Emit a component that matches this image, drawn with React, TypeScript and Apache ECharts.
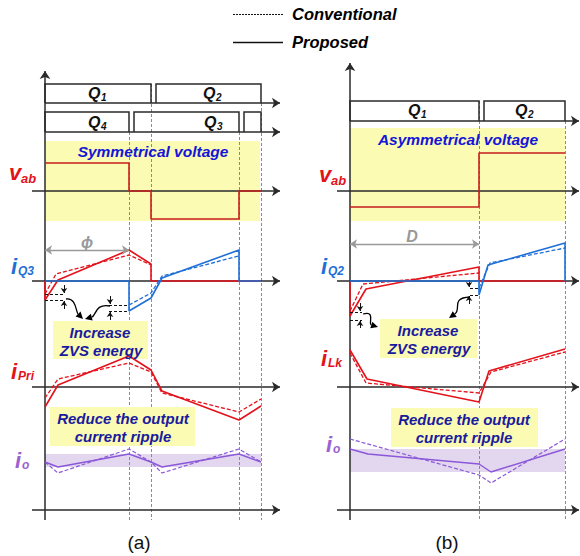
import React, { useEffect, useRef } from "react";
import * as echarts from "echarts";

const FONT = "Arial, 'Liberation Sans', 'DejaVu Sans', sans-serif";

// ---------- texts ----------
const legendNames = ["Conventional", "Proposed"];
const panelNames = ["(a)", "(b)"];
const bannerA = "Symmetrical voltage";
const bannerB = "Asymmetrical voltage";
const zvsText = ["Increase", "ZVS energy"];
const rippleText = ["Reduce the output", "current ripple"];

// ---------- panel (a) data (x: time, y: level) ----------
const aVab = [[45, 163], [129, 163], [129, 191], [151, 191], [151, 219], [239, 219], [239, 191], [261, 191]];
const aIQ3RedP = [[45, 281], [45, 300], [58, 280], [129, 250], [151, 264], [151, 281], [261, 281]];
const aIQ3RedC = [[45, 294], [56, 274], [129, 255], [151, 265]];
const aIQ3BlueP = [[45, 281], [129, 281], [129, 311], [151, 298], [162, 278], [239, 250], [239, 281], [261, 281]];
const aIQ3BlueC = [[129, 305], [151, 293], [162, 276], [239, 256]];
const aIPriP = [[45, 407], [58, 385], [129, 356], [151, 370], [162, 391], [239, 420], [261, 406]];
const aIPriC = [[45, 398], [58, 379], [129, 363], [151, 372], [162, 393], [239, 412], [261, 399]];
const aIoP = [[45, 462], [58, 467], [129, 454], [151, 462], [162, 467], [239, 454], [261, 462]];
const aIoC = [[45, 462], [58, 473], [129, 449], [151, 462], [162, 473], [239, 449], [261, 462]];

// ---------- panel (b) data ----------
const bVab = [[350, 207], [479, 207], [479, 153], [565, 153]];
const bIQ2RedP = [[350, 281], [350, 316], [366, 289], [479, 267], [479, 281], [565, 281]];
const bIQ2RedC = [[350, 311], [363, 284], [479, 273]];
const bIQ2BlueP = [[350, 281], [479, 281], [479, 295], [488, 265], [565, 243], [565, 281]];
const bIQ2BlueC = [[479, 288], [490, 263], [565, 248]];
const bILkP = [[350, 350], [367, 379], [479, 402], [489, 371], [565, 349]];
const bILkC = [[350, 353], [366, 383], [479, 393], [491, 372], [565, 352]];
const bIoP = [[350, 449], [368, 454], [479, 464], [491, 472], [565, 449]];
const bIoC = [[350, 439], [479, 475], [491, 483], [565, 439]];

// gate boxes
const gateBoxes = [
  [[45, 103], [45, 84], [151, 84], [151, 103]],
  [[156, 103], [156, 84], [261, 84], [261, 103]],
  [[45, 132], [45, 112], [129, 112], [129, 132]],
  [[134, 132], [134, 112], [239, 112], [239, 132]],
  [[244, 132], [244, 112], [261, 112], [261, 132]],
  [[350, 121], [350, 101], [479, 101], [479, 121]],
  [[484, 121], [484, 101], [565, 101], [565, 121]],
];
const gateLabels = [
  ["Q", "1", 88, 93], ["Q", "2", 203, 93], ["Q", "4", 88, 122], ["Q", "3", 204, 122],
  ["Q", "1", 408, 110], ["Q", "2", 515, 110],
];

const axesArrows = [
  [[45, 520], [45, 71]], [[45, 103], [280, 103]], [[45, 132], [280, 132]],
  [[32, 191], [280, 191]], [[32, 281], [280, 281]], [[32, 387], [280, 387]], [[32, 510], [280, 510]],
  [[350, 520], [350, 63]], [[350, 121], [579, 121]], [[337, 191], [579, 191]],
  [[337, 281], [579, 281]], [[337, 387], [579, 387]], [[337, 510], [579, 510]],
];
const guideLines = [
  [[129, 132], [129, 520]], [[151, 84], [151, 520]], [[239, 132], [239, 520]], [[261, 103], [261, 520]],
  [[479, 101], [479, 520]], [[565, 121], [565, 520]],
];
const spanArrows = [[[45, 250], [129, 250]], [[350, 244], [479, 244]]];
const spanLabels = [["ϕ", 87, 242], ["D", 412, 236]];
const levelMarks = [
  [[45, 294], [64, 294]], [[45, 300], [64, 300]], [[109, 305], [129, 305]], [[109, 311], [129, 311]],
  [[350, 312], [362, 312]], [[350, 320], [362, 320]], [[470, 288], [479, 288]], [[470, 295], [479, 295]],
];
const markArrows = [
  [[64, 285], [64, 293]], [[64, 309], [64, 301]], [[110, 296], [110, 304]], [[110, 320], [110, 312]],
  [[360, 303], [360, 311]], [[360, 328], [360, 321]], [[469, 280], [469, 287]], [[469, 304], [469, 296]],
];

const RED = "#e3121b";
const DRED = "#c81e1e";
const BLUE = "#1f6fd6";
const PURPLE = "#8a58d8";
const TXTBLUE = "#1515d8";
const BOXBLUE = "#1a1a9e";
const YELLOW = "#fbfbb4";

function wave(data: number[][], color: string, dashed: boolean, width = 1.5, z = 4) {
  return {
    type: "line",
    data,
    symbol: "none",
    silent: true,
    z,
    lineStyle: { color, width, type: dashed ? [4, 2] : "solid" },
  };
}

function text(str: string, x: number, y: number, size: number, color: string, align = "center", style = "italic", weight = "bold") {
  return {
    type: "text",
    x,
    y,
    z: 20,
    style: {
      text: str,
      fill: color,
      font: `${style} ${weight} ${size}px ${FONT}`,
      textAlign: align,
      align,
      textVerticalAlign: "middle",
      verticalAlign: "middle",
    },
  };
}

function subLabel(main: string, sub: string, x: number, y: number, color: string, mainSize: number, subSize: number, dx: number, dy: number) {
  return [text(main, x, y, mainSize, color, "left"), text(sub, x + dx, y + dy, subSize, color, "left")];
}

function curl(x1: number, y1: number, cx1: number, cy1: number, cx2: number, cy2: number, x2: number, y2: number) {
  const ang = Math.atan2(y2 - cy2, x2 - cx2);
  const L = 7, W = 3.5;
  const bx = x2 - L * Math.cos(ang), by = y2 - L * Math.sin(ang);
  const px = -Math.sin(ang) * W, py = Math.cos(ang) * W;
  return [
    {
      type: "bezierCurve",
      z: 15,
      shape: { x1, y1, x2: bx, y2: by, cpx1: cx1, cpy1: cy1, cpx2: cx2, cpy2: cy2 },
      style: { stroke: "#000", lineWidth: 1.3, fill: null },
    },
    {
      type: "polygon",
      z: 15,
      shape: { points: [[x2, y2], [bx + px, by + py], [bx - px, by - py]] },
      style: { fill: "#000" },
    },
  ];
}

function box(x: number, y: number, w: number, h: number) {
  return { type: "rect", z: 3, shape: { x, y, width: w, height: h }, style: { fill: YELLOW } };
}

export default function App() {
  const ref = useRef<HTMLDivElement>(null);
  useEffect(() => {
    if (!ref.current) return;
    const chart = echarts.init(ref.current, undefined, { renderer: "svg" });
    const graphics: any[] = [
      // text boxes
      box(53, 321, 95, 38),
      box(380, 319, 97, 39),
      box(50, 407, 145, 39),
      box(391, 408, 147, 39),
      text(zvsText[0], 100, 332, 15, BOXBLUE),
      text(zvsText[1], 101, 350, 15, BOXBLUE),
      text(zvsText[0], 428, 330, 15, BOXBLUE),
      text(zvsText[1], 429, 348, 15, BOXBLUE),
      text(rippleText[0], 123, 418, 15, BOXBLUE),
      text(rippleText[1], 123, 436, 15, BOXBLUE),
      text(rippleText[0], 464, 419, 15, BOXBLUE),
      text(rippleText[1], 464, 437, 15, BOXBLUE),
      text(bannerA, 153, 151, 15.5, TXTBLUE),
      text(bannerB, 458, 139, 15.5, TXTBLUE),
      text(legendNames[0], 292, 14, 16.5, "#000", "left"),
      text(legendNames[1], 292, 42, 16.5, "#000", "left"),
      text(panelNames[0], 139, 542, 19, "#111", "center", "normal", "normal"),
      text(panelNames[1], 447, 542, 19, "#111", "center", "normal", "normal"),
      ...spanLabels.map((s) => text(s[0] as string, s[1] as number, s[2] as number, 16, "#999")),
      ...gateLabels.flatMap((g) => subLabel(g[0] as string, g[1] as string, g[2] as number, g[3] as number, "#111", 16, 10, 13, 4)),
      ...subLabel("v", "ab", 9, 172, RED, 22, 13, 12, 6),
      ...subLabel("v", "ab", 319, 174, RED, 22, 13, 12, 6),
      ...subLabel("i", "Q3", 11, 266, BLUE, 22, 12, 7, 5),
      ...subLabel("i", "Q2", 321, 266, BLUE, 22, 12, 7, 5),
      ...subLabel("i", "Pri", 11, 371, RED, 22, 12, 7, 5),
      ...subLabel("i", "Lk", 321, 358, RED, 22, 12, 7, 5),
      ...subLabel("i", "o", 15, 460, "#9a62d0", 22, 12, 7, 5),
      ...subLabel("i", "o", 326, 444, "#9a62d0", 22, 12, 7, 5),
      ...curl(66, 299, 76, 297, 76, 312, 83, 319),
      ...curl(110, 306, 95, 303, 96, 316, 85, 319),
      ...curl(363, 314, 376, 310, 368, 324, 378, 327),
      ...curl(470, 297, 450, 298, 462, 309, 449, 318),
    ];

    const option: any = {
      animation: false,
      grid: { left: 0, right: 0, top: 0, bottom: 0, containLabel: false },
      xAxis: { type: "value", min: 0, max: 580, show: false },
      yAxis: { type: "value", min: 0, max: 556, inverse: true, show: false },
      graphic: { elements: graphics },
      series: [
        {
          type: "line",
          data: [[0, 0]],
          symbol: "none",
          lineStyle: { opacity: 0 },
          silent: true,
          z: 0,
          markArea: {
            silent: true,
            data: [
              [{ coord: [45, 141], itemStyle: { color: YELLOW } }, { coord: [260, 221] }],
              [{ coord: [350, 128], itemStyle: { color: YELLOW } }, { coord: [565, 221] }],
              [{ coord: [45, 454], itemStyle: { color: "#e3d6ef" } }, { coord: [261, 467] }],
              [{ coord: [350, 449], itemStyle: { color: "#e3d6ef" } }, { coord: [565, 472] }],
            ],
          },
        },
        {
          type: "lines",
          coordinateSystem: "cartesian2d",
          silent: true,
          z: 1,
          symbol: "none",
          lineStyle: { color: "#8a8a8a", width: 1, type: [3, 2], opacity: 1 },
          data: guideLines.map((c) => ({ coords: c })),
        },
        {
          type: "lines",
          coordinateSystem: "cartesian2d",
          silent: true,
          z: 5,
          polyline: true,
          symbol: "none",
          lineStyle: { color: "#2a2a2a", width: 1.5, opacity: 1 },
          data: gateBoxes.map((c) => ({ coords: c })),
        },
        {
          type: "lines",
          coordinateSystem: "cartesian2d",
          silent: true,
          z: 2,
          symbol: ["none", "arrow"],
          symbolSize: 8,
          lineStyle: { color: "#2a2a2a", width: 1.5, opacity: 1 },
          data: axesArrows.map((c) => ({ coords: c })),
        },
        {
          type: "lines",
          coordinateSystem: "cartesian2d",
          silent: true,
          z: 5,
          symbol: ["arrow", "arrow"],
          symbolSize: 7,
          lineStyle: { color: "#9a9a9a", width: 1.3, opacity: 1 },
          data: spanArrows.map((c) => ({ coords: c })),
        },
        {
          type: "lines",
          coordinateSystem: "cartesian2d",
          silent: true,
          z: 5,
          symbol: "none",
          lineStyle: { color: "#111", width: 1.2, type: [3, 2], opacity: 1 },
          data: levelMarks.map((c) => ({ coords: c })),
        },
        {
          type: "lines",
          coordinateSystem: "cartesian2d",
          silent: true,
          z: 5,
          symbol: ["none", "arrow"],
          symbolSize: 5,
          lineStyle: { color: "#111", width: 1, opacity: 1 },
          data: markArrows.map((c) => ({ coords: c })),
        },
        {
          type: "lines",
          coordinateSystem: "cartesian2d",
          silent: true,
          z: 5,
          symbol: "none",
          lineStyle: { color: "#111", width: 1, type: [2, 1], opacity: 1 },
          data: [{ coords: [[233, 14], [283, 14]] }],
        },
        {
          type: "lines",
          coordinateSystem: "cartesian2d",
          silent: true,
          z: 5,
          symbol: "none",
          lineStyle: { color: "#111", width: 1.3, opacity: 1 },
          data: [{ coords: [[233, 42], [283, 42]] }],
        },
        wave(aVab, DRED, false, 1.6),
        wave(bVab, DRED, false, 1.6),
        wave(aIQ3RedP, RED, false, 1.6),
        wave(aIQ3RedC, RED, true, 1.3),
        wave(aIQ3BlueP, BLUE, false, 1.6, 6),
        wave(aIQ3BlueC, BLUE, true, 1.3, 6),
        wave(aIPriP, RED, false, 1.6),
        wave(aIPriC, RED, true, 1.3),
        wave(aIoP, PURPLE, false, 1.4),
        wave(aIoC, PURPLE, true, 1.2),
        wave(bIQ2RedP, RED, false, 1.6),
        wave(bIQ2RedC, RED, true, 1.3),
        wave(bIQ2BlueP, BLUE, false, 1.6, 6),
        wave(bIQ2BlueC, BLUE, true, 1.3, 6),
        wave(bILkP, RED, false, 1.6),
        wave(bILkC, RED, true, 1.3),
        wave(bIoP, PURPLE, false, 1.4),
        wave(bIoC, PURPLE, true, 1.2),
      ],
    };
    chart.setOption(option);
    return () => chart.dispose();
  }, []);
  return (
    <div
      ref={ref}
      style={{ position: "fixed", left: 0, top: 0, width: 580, height: 556, background: "#fff" }}
    />
  );
}
